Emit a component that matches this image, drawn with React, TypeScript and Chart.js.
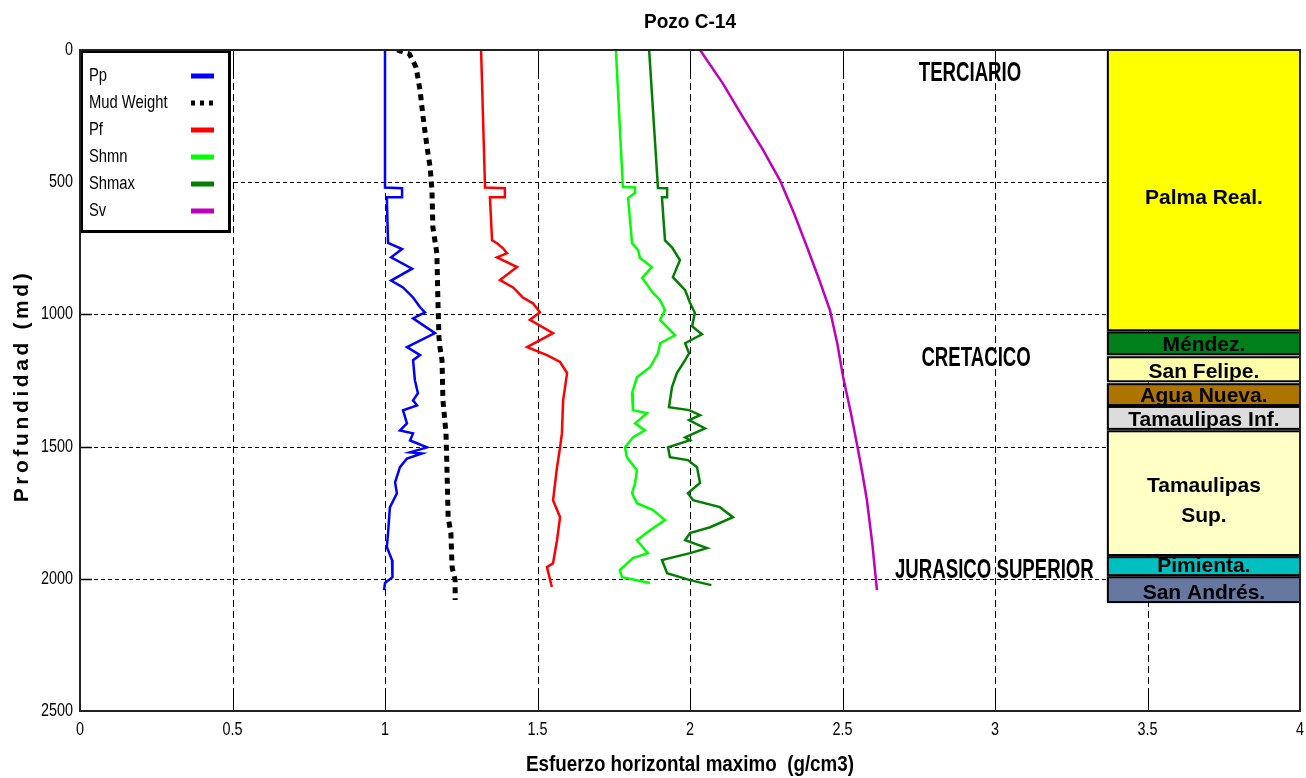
import React, { useEffect, useRef } from 'react';
import { Chart, registerables } from 'chart.js';

Chart.register(...registerables);

// ---------- DATA ----------
const xTicks = [0, 0.5, 1, 1.5, 2, 2.5, 3, 3.5, 4];
const yTicks = [0, 500, 1000, 1500, 2000, 2500];

const ppDepth = [0, 520, 523, 557, 557, 730, 753, 784, 827, 872, 898, 936, 973, 992, 1015, 1071, 1124, 1154, 1173, 1249, 1298, 1325, 1344, 1363, 1412, 1439, 1450, 1477, 1503, 1522, 1526, 1545, 1578, 1635, 1677, 1730, 1827, 1880, 1929, 1956, 1994, 2016, 2043];
const ppValue = [1.0, 1.0, 1.056, 1.056, 1.006, 1.01, 1.056, 1.02, 1.089, 1.02, 1.059, 1.092, 1.115, 1.131, 1.092, 1.164, 1.072, 1.115, 1.092, 1.098, 1.108, 1.092, 1.105, 1.059, 1.072, 1.049, 1.092, 1.082, 1.138, 1.082, 1.121, 1.072, 1.049, 1.033, 1.039, 1.016, 1.01, 1.006, 1.023, 1.026, 1.023, 1.0, 0.997];

const mudDepth = [0, 8, 15, 66, 153, 255, 368, 444, 531, 671, 769, 973, 1087, 1124, 1173, 1325, 1450, 1578, 1767, 1827, 1956, 2005, 2080];
const mudValue = [1.04, 1.06, 1.08, 1.102, 1.115, 1.125, 1.138, 1.148, 1.154, 1.157, 1.17, 1.174, 1.177, 1.18, 1.187, 1.19, 1.2, 1.203, 1.207, 1.216, 1.22, 1.23, 1.23];

const pfDepth = [0, 520, 523, 557, 557, 720, 731, 750, 769, 784, 821, 870, 898, 936, 958, 992, 1021, 1071, 1124, 1154, 1180, 1222, 1325, 1450, 1503, 1578, 1703, 1767, 1854, 1941, 1956, 2031];
const pfValue = [1.315, 1.328, 1.393, 1.393, 1.344, 1.351, 1.367, 1.387, 1.4, 1.367, 1.433, 1.377, 1.42, 1.452, 1.485, 1.508, 1.475, 1.551, 1.466, 1.531, 1.574, 1.597, 1.584, 1.58, 1.574, 1.564, 1.551, 1.574, 1.564, 1.551, 1.531, 1.547];

const shmnDepth = [0, 518, 520, 540, 560, 731, 757, 787, 821, 862, 919, 946, 984, 1021, 1079, 1109, 1147, 1200, 1238, 1298, 1362, 1374, 1412, 1438, 1465, 1503, 1540, 1589, 1638, 1676, 1714, 1740, 1778, 1816, 1854, 1903, 1922, 1967, 1994, 2016];
const shmnValue = [1.757, 1.78, 1.82, 1.82, 1.797, 1.81, 1.83, 1.836, 1.875, 1.843, 1.879, 1.902, 1.918, 1.902, 1.951, 1.902, 1.895, 1.869, 1.826, 1.81, 1.813, 1.859, 1.82, 1.852, 1.813, 1.787, 1.793, 1.826, 1.82, 1.81, 1.826, 1.879, 1.918, 1.869, 1.826, 1.862, 1.813, 1.77, 1.777, 1.869];

const shmaxDepth = [0, 522, 523, 557, 557, 720, 746, 795, 859, 908, 956, 994, 1045, 1075, 1109, 1147, 1173, 1222, 1275, 1351, 1362, 1381, 1400, 1431, 1465, 1476, 1503, 1540, 1551, 1578, 1638, 1676, 1703, 1729, 1767, 1805, 1827, 1854, 1884, 1903, 1929, 1979, 2005, 2024];
const shmaxValue = [1.866, 1.895, 1.925, 1.925, 1.908, 1.918, 1.941, 1.967, 1.944, 1.984, 2.0, 2.016, 2.007, 2.039, 1.984, 1.997, 1.984, 1.957, 1.941, 1.931, 1.997, 2.033, 1.997, 2.049, 1.984, 2.0, 1.928, 1.934, 1.993, 2.023, 2.033, 1.993, 2.01, 2.098, 2.141, 2.066, 2.0, 1.984, 2.056, 2.0, 1.908, 1.925, 2.0, 2.07];

const svDepth = [0, 127, 255, 375, 493, 620, 746, 870, 985, 1110, 1237, 1370, 1494, 1600, 1702, 1870, 2043];
const svValue = [2.033, 2.108, 2.174, 2.238, 2.295, 2.342, 2.384, 2.424, 2.459, 2.483, 2.502, 2.527, 2.548, 2.565, 2.58, 2.598, 2.613];

const formationNames = ['Palma Real.', 'Méndez.', 'San Felipe.', 'Agua Nueva.', 'Tamaulipas Inf.', 'Tamaulipas\nSup.', 'Pimienta.', 'San Andrés.'];
const formationTops = [0, 1068, 1162, 1264, 1350, 1442, 1918, 1994];
const formationBases = [1060, 1151, 1253, 1343, 1433, 1910, 1986, 2088];
const formationColors = ['#ffff00', '#007f1a', '#ffffaa', '#ad7400', '#dcdcdc', '#ffffc6', '#00bfbf', '#6677a0'];
const columnLeft = 3.37;
const columnRight = 4.0;

const eraNames = ['TERCIARIO', 'CRETACICO', 'JURASICO SUPERIOR'];
const eraX = [2.918, 2.938, 2.998];
const eraDepth = [89, 1166, 1967];

const seriesLabels = ['Pp', 'Mud Weight', 'Pf', 'Shmn', 'Shmax', 'Sv'];
const seriesColors = ['#0000ff', '#000000', '#ff0000', '#00ff00', '#007f00', '#bf00bf'];

const titleText = 'Pozo C-14';
const xTitleText = 'Esfuerzo horizontal maximo  (g/cm3)';
const yTitleText = 'Profundidad (md)';

// ---------- STYLE ----------
const ARIAL = "'Liberation Sans', Arial, sans-serif";
const NARROW_SCALE = 0.82;

const toPoints = (d: number[], v: number[]) => d.map((dd, i) => ({ x: v[i], y: dd }));

const seriesData = [
  toPoints(ppDepth, ppValue),
  toPoints(mudDepth, mudValue),
  toPoints(pfDepth, pfValue),
  toPoints(shmnDepth, shmnValue),
  toPoints(shmaxDepth, shmaxValue),
  toPoints(svDepth, svValue),
];

function drawScaled(ctx: CanvasRenderingContext2D, text: string, x: number, y: number, font: string, sx: number, align: CanvasTextAlign = 'center') {
  ctx.save();
  ctx.font = font;
  ctx.textAlign = align;
  ctx.textBaseline = 'middle';
  ctx.translate(x, y);
  ctx.scale(sx, 1);
  ctx.fillText(text, 0, 0);
  ctx.restore();
}

function drawFit(ctx: CanvasRenderingContext2D, text: string, x: number, y: number, font: string, width: number) {
  ctx.save();
  ctx.font = font;
  const w = ctx.measureText(text).width;
  ctx.restore();
  drawScaled(ctx, text, x, y, font, width / w);
}

const gridPlugin = {
  id: 'matlabGrid',
  beforeDatasetsDraw(chart: any) {
    const { ctx, chartArea: a, scales } = chart;
    const xs = scales.x, ys = scales.y;
    ctx.save();
    ctx.strokeStyle = '#000';
    ctx.lineWidth = 1;
    xs.ticks.forEach((tk: any) => {
      const t = tk.value;
      if (t === 0 || t === 4) return;
      const px = Math.round(xs.getPixelForValue(t)) + 0.5;
      ctx.setLineDash([7, 4]);
      ctx.beginPath();
      ctx.moveTo(px, a.top);
      ctx.lineTo(px, a.bottom);
      ctx.stroke();
      ctx.setLineDash([]);
      ctx.beginPath();
      ctx.moveTo(px, a.top);
      ctx.lineTo(px, a.top + 22);
      ctx.moveTo(px, a.bottom);
      ctx.lineTo(px, a.bottom - 22);
      ctx.stroke();
    });
    ys.ticks.forEach((tk: any) => {
      const t = tk.value;
      if (t === 0 || t === 2500) return;
      const py = Math.round(ys.getPixelForValue(t)) + 0.5;
      ctx.setLineDash([4, 3]);
      ctx.beginPath();
      ctx.moveTo(a.left, py);
      ctx.lineTo(a.right, py);
      ctx.stroke();
      ctx.setLineDash([]);
      ctx.lineWidth = 1.5;
      ctx.beginPath();
      ctx.moveTo(a.left, py);
      ctx.lineTo(a.left + 12, py);
      ctx.moveTo(a.right, py);
      ctx.lineTo(a.right - 12, py);
      ctx.stroke();
      ctx.lineWidth = 1;
    });
    ctx.restore();
  },
};

const overlayPlugin = {
  id: 'overlay',
  afterDatasetsDraw(chart: any) {
    const { ctx, chartArea: a, scales } = chart;
    const xs = scales.x, ys = scales.y;
    ctx.save();
    // formation column
    const xl = xs.getPixelForValue(columnLeft);
    const xr = xs.getPixelForValue(columnRight);
    formationNames.forEach((name, i) => {
      const yt = ys.getPixelForValue(formationTops[i]);
      const yb = ys.getPixelForValue(formationBases[i]);
      ctx.fillStyle = formationColors[i];
      ctx.fillRect(xl, yt, xr - xl, yb - yt);
      ctx.lineWidth = 2;
      ctx.strokeStyle = '#000';
      ctx.strokeRect(xl, yt, xr - xl, yb - yt);
      ctx.save();
      ctx.beginPath();
      ctx.rect(xl, yt, xr - xl, yb - yt);
      ctx.clip();
      ctx.fillStyle = '#000';
      const cx = (xl + xr) / 2;
      const lines = name.split('\n');
      const font = `bold 21px ${ARIAL}`;
      if (yb - yt > 60) {
        const cy = (yt + yb) / 2 + 8;
        lines.forEach((ln, k) => {
          drawScaled(ctx, ln, cx, cy + (k - (lines.length - 1) / 2) * 30, font, 1);
        });
      } else {
        drawScaled(ctx, lines[0], cx, yb - 9, font, 1);
      }
      ctx.restore();
    });
    // era labels
    ctx.fillStyle = '#000';
    eraNames.forEach((n, i) => {
      drawScaled(ctx, n, xs.getPixelForValue(eraX[i]), ys.getPixelForValue(eraDepth[i]), `bold 27px ${ARIAL}`, 0.69);
    });
    // legend
    const lx = a.left, ly = a.top, lw = 151, lh = 183;
    ctx.fillStyle = '#fff';
    ctx.fillRect(lx, ly, lw, lh);
    ctx.lineWidth = 3;
    ctx.strokeStyle = '#000';
    ctx.strokeRect(lx + 1.5, ly + 1.5, lw - 3, lh - 3);
    seriesLabels.forEach((lab, i) => {
      const yy = ly + 26 + i * 27;
      ctx.fillStyle = '#000';
      drawScaled(ctx, lab, lx + 9, yy, `18px ${ARIAL}`, NARROW_SCALE, 'left');
      ctx.strokeStyle = seriesColors[i];
      ctx.lineWidth = 5;
      ctx.setLineDash(i === 1 ? [4, 5] : []);
      ctx.beginPath();
      ctx.moveTo(lx + 111, yy);
      ctx.lineTo(lx + 134, yy);
      ctx.stroke();
      ctx.setLineDash([]);
    });
    ctx.restore();
  },
  afterDraw(chart: any) {
    const { ctx, chartArea: a, scales } = chart;
    const xs = scales.x, ys = scales.y;
    ctx.save();
    ctx.strokeStyle = '#222';
    ctx.lineWidth = 2;
    ctx.strokeRect(a.left, a.top, a.right - a.left, a.bottom - a.top);
    ctx.fillStyle = '#000';
    // tick labels (narrow face), positioned by the chart's scales
    const tickFont = `18px ${ARIAL}`;
    xs.ticks.forEach((tk: any) => {
      drawScaled(ctx, String(tk.value), xs.getPixelForValue(tk.value), a.bottom + 19, tickFont, 0.8, 'center');
    });
    ys.ticks.forEach((tk: any) => {
      drawScaled(ctx, String(tk.value), a.left - 7, ys.getPixelForValue(tk.value), tickFont, 0.8, 'right');
    });
    const cx = (a.left + a.right) / 2;
    drawFit(ctx, titleText, cx, 22, `bold 21px ${ARIAL}`, 92);
    drawFit(ctx, xTitleText, cx, 765, `bold 22px ${ARIAL}`, 328);
    ctx.save();
    ctx.translate(22, 386);
    ctx.rotate(-Math.PI / 2);
    ctx.font = `bold 21px ${ARIAL}`;
    (ctx as any).letterSpacing = '3.6px';
    ctx.textAlign = 'center';
    ctx.textBaseline = 'middle';
    ctx.fillText(yTitleText, 0, 0);
    ctx.restore();
    ctx.restore();
  },
};

export default function App() {
  const ref = useRef<HTMLCanvasElement>(null);
  useEffect(() => {
    if (!ref.current) return;
    const chart = new Chart(ref.current, {
      type: 'scatter',
      data: {
        datasets: seriesLabels.map((lab, i) => ({
          label: lab,
          data: seriesData[i],
          showLine: true,
          borderColor: seriesColors[i],
          backgroundColor: seriesColors[i],
          borderWidth: i === 1 ? 5 : 2.5,
          borderDash: i === 1 ? [6, 5] : [],
          pointRadius: 0,
          tension: 0,
          fill: false,
        })),
      },
      options: {
        responsive: false,
        animation: false,
        devicePixelRatio: 1,
        layout: { padding: { top: 50, right: 6, left: 0, bottom: 0 } },
        plugins: { legend: { display: false }, tooltip: { enabled: false }, title: { display: false } },
        scales: {
          x: {
            type: 'linear',
            min: 0,
            max: 4,
            afterBuildTicks: (s: any) => { s.ticks = xTicks.map((v) => ({ value: v })); },
            ticks: { display: false, autoSkip: false },
            grid: { display: false, drawTicks: false },
            border: { display: false },
            afterFit: (s: any) => { s.height = 67; s.paddingLeft = 0; s.paddingRight = 0; },
          },
          y: {
            type: 'linear',
            reverse: true,
            min: 0,
            max: 2500,
            afterBuildTicks: (s: any) => { s.ticks = yTicks.map((v) => ({ value: v })); },
            ticks: { display: false, autoSkip: false },
            grid: { display: false, drawTicks: false },
            border: { display: false },
            afterFit: (s: any) => { s.width = 80; s.paddingTop = 0; s.paddingBottom = 0; },
          },
        },
      } as any,
      plugins: [gridPlugin, overlayPlugin],
    });
    return () => chart.destroy();
  }, []);
  return (
    <div style={{ position: 'absolute', left: 0, top: 0, width: 1306, height: 778, background: '#fff' }}>
      <canvas ref={ref} width={1306} height={778} style={{ display: 'block', width: 1306, height: 778 }} />
    </div>
  );
}
